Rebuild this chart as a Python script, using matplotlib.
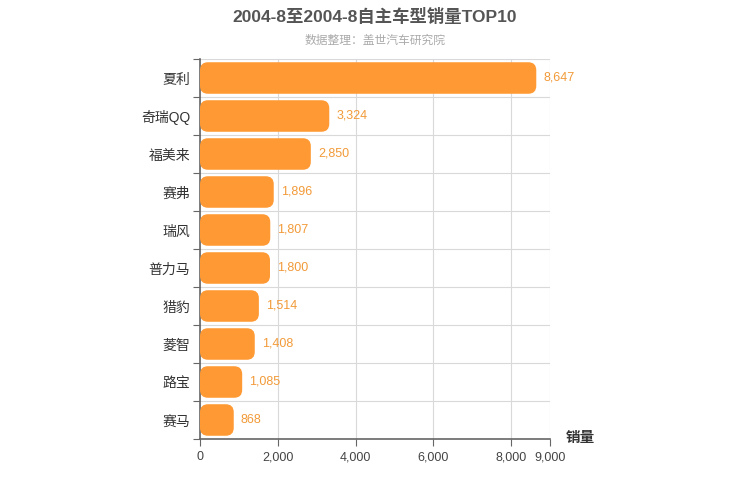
import matplotlib
matplotlib.use("Agg")
import matplotlib.pyplot as plt
from matplotlib.patches import FancyBboxPatch

plt.rcParams['font.family'] = ['Liberation Sans', 'Noto Sans CJK SC', 'DejaVu Sans']

models = ['夏利', '奇瑞QQ', '福美来', '赛弗', '瑞风', '普力马', '猎豹', '菱智', '路宝', '赛马']
sales = [8647, 3324, 2850, 1896, 1807, 1800, 1514, 1408, 1085, 868]
xticks = [0, 2000, 4000, 6000, 8000, 9000]

bar_color = '#FF9933'
fig = plt.figure(figsize=(7.5, 5), dpi=100)
ax = fig.add_axes([200 / 750, 1 - 439 / 500, 350 / 750, 380 / 500])

n = len(models)
ax.set_xlim(0, 9000)
ax.set_ylim(n, 0)

# rounded bars in data coords
px_x = 9000 / 350.0
px_y = 1 / 38.0
bh = 0.83
for i, v in enumerate(sales):
    y0 = i + (1 - bh) / 2
    p = FancyBboxPatch((0, y0), v, bh,
                       boxstyle="round,pad=0,rounding_size=%f" % (8 * px_x),
                       mutation_aspect=px_y / px_x,
                       facecolor=bar_color, edgecolor='none', zorder=3)
    ax.add_patch(p)
    ax.text(v + 7 * px_x, i + 0.5, f'{v:,}', va='center', ha='left',
            fontsize=9, color='#F29A38', zorder=4)

ax.set_yticks(range(n + 1))
ax.set_yticklabels([])
ax.set_yticks([i + 0.5 for i in range(n)], minor=True)
ax.set_yticklabels(models, minor=True, fontsize=10, color='#333333', fontweight='medium')
ax.tick_params(axis='y', which='minor', length=0, pad=7)
ax.tick_params(axis='y', which='major', length=5, color='#666666')

ax.set_xticks(xticks)
ax.set_xticklabels([f'{t:,}' for t in xticks], fontsize=9, color='#444444')
ax.tick_params(axis='x', length=5, color='#666666', pad=4)

ax.grid(True, axis='both', which='major', color='#d9d9d9', linewidth=0.8, zorder=0)
ax.set_axisbelow(True)
for s in ['top', 'right']:
    ax.spines[s].set_visible(False)
for s in ['left', 'bottom']:
    ax.spines[s].set_color('#666666')
    ax.spines[s].set_linewidth(1.2)

fig.text(0.5, 0.968, '2004-8至2004-8自主车型销量TOP10', ha='center', va='center',
         fontsize=12.5, fontweight='bold', color='#555555')
fig.text(0.5, 0.918, '数据整理：盖世汽车研究院', ha='center', va='center',
         fontsize=8.5, color='#aaaaaa')
fig.text(580 / 750, 1 - 438 / 500, '销量', ha='center', va='center',
         fontsize=10.5, fontweight='bold', color='#333333')

fig.savefig('out.png', dpi=100)
